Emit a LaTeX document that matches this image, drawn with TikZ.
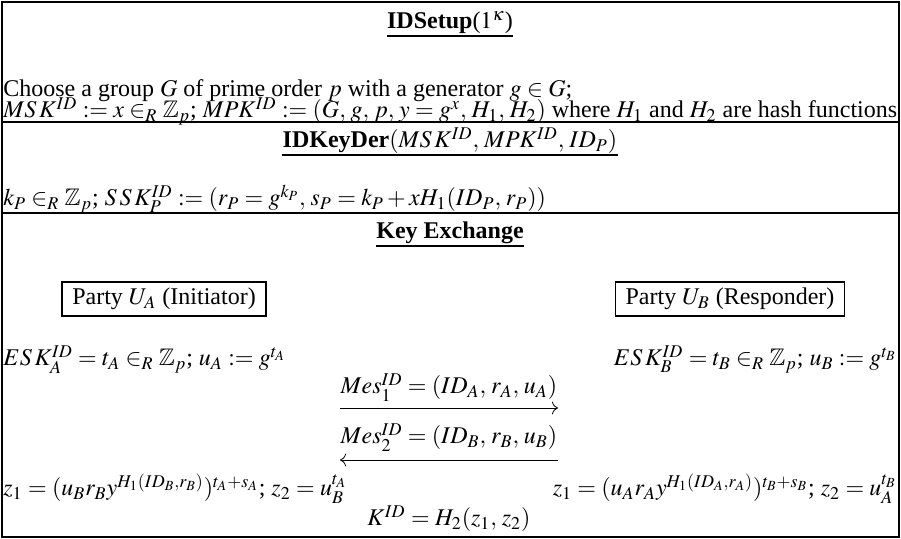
\documentclass[tikz,border=0pt]{standalone}
\usepackage{amsmath,amssymb}
\usepackage{mathptmx}
\usepackage[no-math]{fontspec}
\setmainfont{Liberation Serif}
\usetikzlibrary{arrows.meta, positioning}
\thinmuskip=3.6mu

\begin{document}
\begin{tikzpicture}[
    x=0.5pt, y=-0.5pt,
    font=\fontsize{12}{14}\selectfont,
    frame/.style={line width=1pt},
    title/.style={font=\fontsize{12}{14}\selectfont\bfseries, inner sep=0pt, anchor=base},
    uline/.style={line width=1pt},
    lline/.style={inner sep=0pt, anchor=base west},
    rline/.style={inner sep=0pt, anchor=base east},
    cline/.style={inner sep=0pt, anchor=base},
    party/.style={draw, line width=0.8pt, inner xsep=5pt, inner ysep=3pt},
    msg/.style={-{To[length=3pt]}, line width=0.4pt}
]
\useasboundingbox (0,0) rectangle (901,539);

% Frame and section rules
\draw[frame] (2,2) rectangle (899,537);
\draw[frame] (2,122) -- (899,122);
\draw[frame] (2,213) -- (899,213);

% IDSetup
\node[title] (t_setup) at (450,29) {IDSetup\textmd{($1^\kappa$)}};
\draw[uline] ([yshift=-0.5pt]t_setup.south west) -- ([yshift=-0.5pt]t_setup.south east);
\node[lline] (s_l1) at (3,97) {Choose a group $G$ of prime order $p$ with a generator $g \in G$;};
\node[lline] (s_l2) at (3,118) {$MS\mkern2mu K^{ID} := x \in_R \mathbb{Z}_p$;\ $MPK^{ID} := (G, g, p, y = g^x, H_1, H_2)$ where $H_1$ and $H_2$ are hash functions};

% IDKeyDer
\node[title] (t_keyder) at (450,148) {IDKeyDer\textmd{$(MS\mkern2mu K^{ID}, MPK^{ID}, ID_P)$}};
\draw[uline] ([yshift=-0.5pt]t_keyder.south west) -- ([yshift=-0.5pt]t_keyder.south east);
\node[lline] (d_l1) at (3,206) {$k_P \in_R \mathbb{Z}_p$;\ $S\mkern2mu S\mkern2mu K_P^{ID} := (r_P = g^{k_P}, s_P = k_P + xH_1(ID_P, r_P))$};

% Key Exchange
\node[title] (t_kex) at (450,239) {Key Exchange};
\draw[uline] ([yshift=-0.5pt]t_kex.south west) -- ([yshift=-0.5pt]t_kex.south east);

\node[party] (p_a) at (164,299) {Party $U_A$ (Initiator)};
\node[party] (p_b) at (730,299) {Party $U_B$ (Responder)};

\node[lline] (a_esk) at (3,366) {$ES\mkern2mu K_A^{ID} = t_A \in_R \mathbb{Z}_p$;\ $u_A := g^{t_A}$};
\node[rline] (b_esk) at (897,366) {$ES\mkern2mu K_B^{ID} = t_B \in_R \mathbb{Z}_p$;\ $u_B := g^{t_B}$};

\node[cline] (m_1) at (449,394) {$Mes_1^{ID} = (ID_A, r_A, u_A)$};
\coordinate (m1_s) at (340,408);
\coordinate (m1_e) at (558,408);
\draw[msg] (m1_s) -- (m1_e);

\node[cline] (m_2) at (449,444) {$Mes_2^{ID} = (ID_B, r_B, u_B)$};
\coordinate (m2_s) at (558,460);
\coordinate (m2_e) at (340,460);
\draw[msg] (m2_s) -- (m2_e);

\node[lline] (a_z) at (3,496) {$z_1 = (u_B r_B y^{H_1(ID_B, r_B)})^{t_A + s_A}$;\ $z_2 = u_B^{t_A}$};
\node[rline] (b_z) at (897,496) {$z_1 = (u_A r_A y^{H_1(ID_A, r_A)})^{t_B + s_B}$;\ $z_2 = u_A^{t_B}$};

\node[cline] (k_id) at (449,526) {$K^{ID} = H_2(z_1, z_2)$};

\end{tikzpicture}
\end{document}
